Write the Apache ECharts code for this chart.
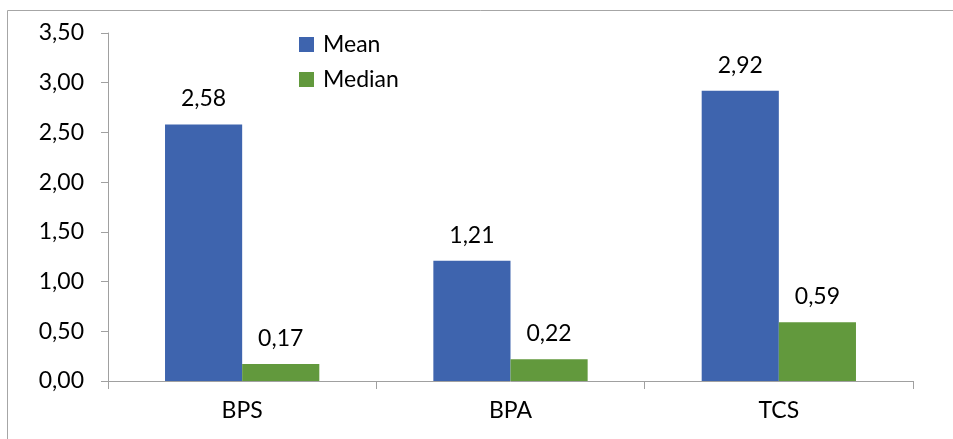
<!DOCTYPE html>
<html>
<head>
<meta charset="utf-8">
<script src="https://cdn.jsdelivr.net/npm/echarts@6/dist/echarts.min.js"></script>
<style>
  html, body { margin: 0; padding: 0; background: #fff; }
  #chart { width: 953px; height: 439px; }
</style>
</head>
<body>
<div id="chart"></div>
<script>
// Chart data
const categories = ['BPS', 'BPA', 'TCS'];
const meanValues = [2.58, 1.21, 2.92];
const medianValues = [0.17, 0.22, 0.59];
const seriesNames = ['Mean', 'Median'];

const FONT = 'Lato, "Open Sans", sans-serif';
const FS = 23;
const fmt = v => v.toFixed(2).replace('.', ',');

const chart = echarts.init(document.getElementById('chart'));
const labelStyle = {
  show: true,
  position: 'top',
  distance: 14,
  color: '#000',
  fontSize: FS,
  fontFamily: FONT,
  formatter: p => fmt(p.value)
};
chart.setOption({
  animation: false,
  textStyle: { fontFamily: FONT },
  graphic: [{
    type: 'rect',
    shape: { x: 7.5, y: 10.5, width: 960, height: 450 },
    style: { fill: 'none', stroke: '#a6a6a6', lineWidth: 1 },
    silent: true
  }],
  legend: {
    orient: 'vertical',
    left: 294,
    top: 28,
    itemWidth: 15,
    itemHeight: 15,
    itemGap: 12,
    icon: 'rect',
    textStyle: { fontSize: FS, color: '#000', fontFamily: FONT, padding: [0, 0, 0, 4] },
    data: seriesNames
  },
  grid: { left: 108, right: 40, top: 33, bottom: 58, containLabel: false },
  xAxis: {
    type: 'category',
    data: categories,
    axisLine: { lineStyle: { color: '#a0a0a0', width: 1 } },
    axisTick: { show: true, length: 8, alignWithLabel: false, lineStyle: { color: '#a0a0a0' } },
    axisLabel: { color: '#000', fontSize: FS, fontFamily: FONT, margin: 18 }
  },
  yAxis: {
    type: 'value',
    min: 0,
    max: 3.5,
    interval: 0.5,
    splitLine: { show: false },
    axisLine: { show: true, lineStyle: { color: '#a0a0a0', width: 1 } },
    axisTick: { show: true, length: 7, lineStyle: { color: '#a0a0a0' } },
    axisLabel: { color: '#000', fontSize: FS, fontFamily: FONT, margin: 24, formatter: v => fmt(v) }
  },
  series: [
    {
      name: seriesNames[0],
      type: 'bar',
      data: meanValues,
      barGap: '0%',
      barCategoryGap: '42.5%',
      itemStyle: { color: '#3E64AE' },
      label: labelStyle
    },
    {
      name: seriesNames[1],
      type: 'bar',
      data: medianValues,
      barGap: '0%',
      barCategoryGap: '42.5%',
      itemStyle: { color: '#62993D' },
      label: labelStyle
    }
  ]
});
</script>
</body>
</html>
